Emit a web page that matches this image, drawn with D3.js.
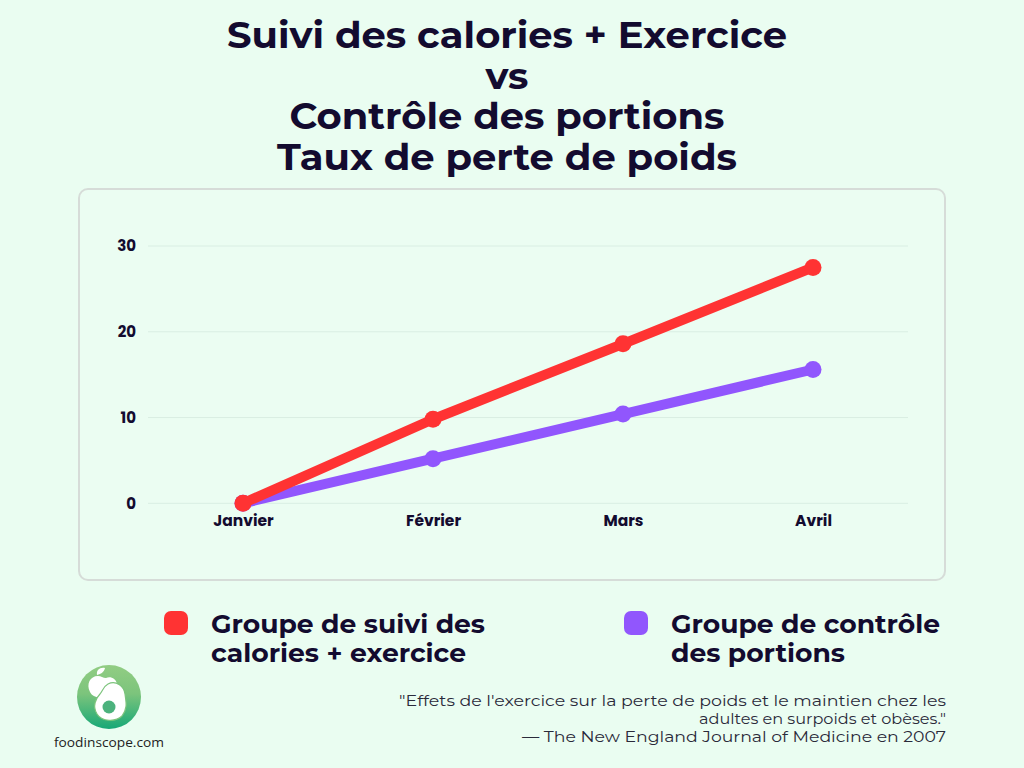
<!DOCTYPE html>
<html><head><meta charset="utf-8">
<script src="https://cdn.jsdelivr.net/npm/d3@7"></script>
<style>
html,body{margin:0;padding:0;background:#eafdf1;}
svg{display:block;}
</style></head>
<body>
<svg id="chart" width="1024" height="768"></svg>
<script>
const months = ["Janvier","Février","Mars","Avril"];
const caloriesExercice = [0, 9.8, 18.6, 27.5];
const portionControl = [0, 5.2, 10.4, 15.6];
const yTicks = [0, 10, 20, 30];
const seriesNames = ["Groupe de suivi des|calories + exercice", "Groupe de contrôle|des portions"];
const titleLines = ["Suivi des calories + Exercice", "vs", "Contrôle des portions", "Taux de perte de poids"];
const sourceLines = ["\"Effets de l'exercice sur la perte de poids et le maintien chez les", "adultes en surpoids et obèses.\"", "— The New England Journal of Medicine en 2007"];

const dark = "#130b2f";
const colors = ["#ff3333", "#9156fd"];
const svg = d3.select("#chart");
const headFont = "Montserrat, 'Open Sans', Lato, sans-serif";

svg.append("rect").attr("width",1024).attr("height",768).attr("fill","#eafdf1");

function fit(sel, w){
  sel.each(function(){
    const l = this.getComputedTextLength();
    if (l > 0) d3.select(this).attr("textLength", w).attr("lengthAdjust","spacingAndGlyphs");
  });
}

// title
const titleW = [560, 43, 435, 460];
const titleY = [48, 89, 129, 170];
titleLines.forEach((t,i)=>{
  svg.append("text").attr("x",507).attr("y",titleY[i]).attr("text-anchor","middle")
    .attr("font-family",headFont).attr("font-weight",700).attr("font-size",36)
    .attr("fill",dark).text(t).call(fit, titleW[i]);
});

// card
svg.append("rect").attr("x",79).attr("y",189).attr("width",866).attr("height",391).attr("rx",9)
  .attr("fill","#ebfdf2").attr("stroke","#d6dcd8").attr("stroke-width",2);

const x = d3.scalePoint().domain(months).range([148, 908]).padding(0.5);
const y = d3.scaleLinear().domain([0,30]).range([503.3, 246]);

svg.append("g").selectAll("line").data(yTicks).join("line")
  .attr("x1",148).attr("x2",908).attr("y1",d=>y(d)).attr("y2",d=>y(d))
  .attr("stroke","#d9eee3").attr("stroke-width",1);

const tickFont = "Poppins, 'Open Sans', Inter, sans-serif";
const yAxis = svg.append("g").attr("transform","translate(136,0)")
  .call(d3.axisLeft(y).tickValues(yTicks).tickSize(0).tickPadding(0));
yAxis.select(".domain").remove();
yAxis.selectAll("text").attr("font-family",tickFont).attr("font-weight",700).attr("font-size",15).attr("fill",dark);

const xAxis = svg.append("g").attr("transform","translate(0,515)")
  .call(d3.axisBottom(x).tickSize(0).tickPadding(0));
xAxis.select(".domain").remove();
xAxis.selectAll("text").attr("font-family",tickFont).attr("font-weight",700).attr("font-size",15.5).attr("fill",dark);

const line = d3.line().x((d,i)=>x(months[i])).y(d=>y(d));
[portionControl, caloriesExercice].forEach((s,k)=>{
  const c = k===0 ? colors[1] : colors[0];
  svg.append("path").datum(s).attr("d",line).attr("fill","none")
    .attr("stroke",c).attr("stroke-width",10).attr("stroke-linejoin","round");
  svg.append("g").selectAll("circle").data(s).join("circle")
    .attr("cx",(d,i)=>x(months[i])).attr("cy",d=>y(d)).attr("r",8.5).attr("fill",c);
});

// legend
const legX = [164, 624];
const legTextW = [[274, 255],[269, 174]];
seriesNames.forEach((n,i)=>{
  svg.append("rect").attr("x",legX[i]).attr("y",611).attr("width",24).attr("height",24).attr("rx",7).attr("fill",colors[i]);
  n.split("|").forEach((t,j)=>{
    svg.append("text").attr("x",legX[i]+47).attr("y",633+j*29)
      .attr("font-family",headFont).attr("font-weight",700).attr("font-size",26)
      .attr("fill",dark).text(t).call(fit, legTextW[i][j]);
  });
});

// source
const srcW = [547, 247, 424];
sourceLines.forEach((t,i)=>{
  svg.append("text").attr("x",946).attr("y",706+i*18).attr("text-anchor","end")
    .attr("font-family",headFont).attr("font-weight",400).attr("font-size",15)
    .attr("fill","#2a2a3a").text(t).call(fit, srcW[i]);
});

// logo
const defs = svg.append("defs");
const g = defs.append("linearGradient").attr("id","lg").attr("x1",0).attr("y1",0).attr("x2",0).attr("y2",1);
g.append("stop").attr("offset","0%").attr("stop-color","#92cd83");
g.append("stop").attr("offset","45%").attr("stop-color","#7cc47c");
g.append("stop").attr("offset","100%").attr("stop-color","#17a877");
svg.append("circle").attr("cx",109).attr("cy",697).attr("r",32).attr("fill","url(#lg)");
// apple
svg.append("path").attr("d","M90 692 C86 684 90 676 98 676 C101 676 103 678 106 678 C110 676 116 678 117 684 C118 690 112 694 106 696 C100 698 93 698 90 692 Z").attr("fill","#ffffff");
svg.append("path").attr("d","M97 675 C96 670 100 667 105 668 C104 672 101 674 97 675 Z").attr("fill","#ffffff");
// avocado
svg.append("path").attr("d","M108 684 C116 680 124 686 125 694 C126 702 128 708 122 716 C116 722 102 722 97 714 C92 706 96 698 100 694 C103 690 104 686 108 684 Z").attr("fill","#ffffff").attr("stroke","#7cc47c").attr("stroke-width",1.2);
svg.append("circle").attr("cx",109).attr("cy",707).attr("r",6.5).attr("fill","#4cb27d");
svg.append("text").attr("x",109).attr("y",747).attr("text-anchor","middle")
  .attr("font-family","'Open Sans', sans-serif").attr("font-size",13.5).attr("fill","#222").text("foodinscope.com").call(fit,110);
</script>
</body></html>
